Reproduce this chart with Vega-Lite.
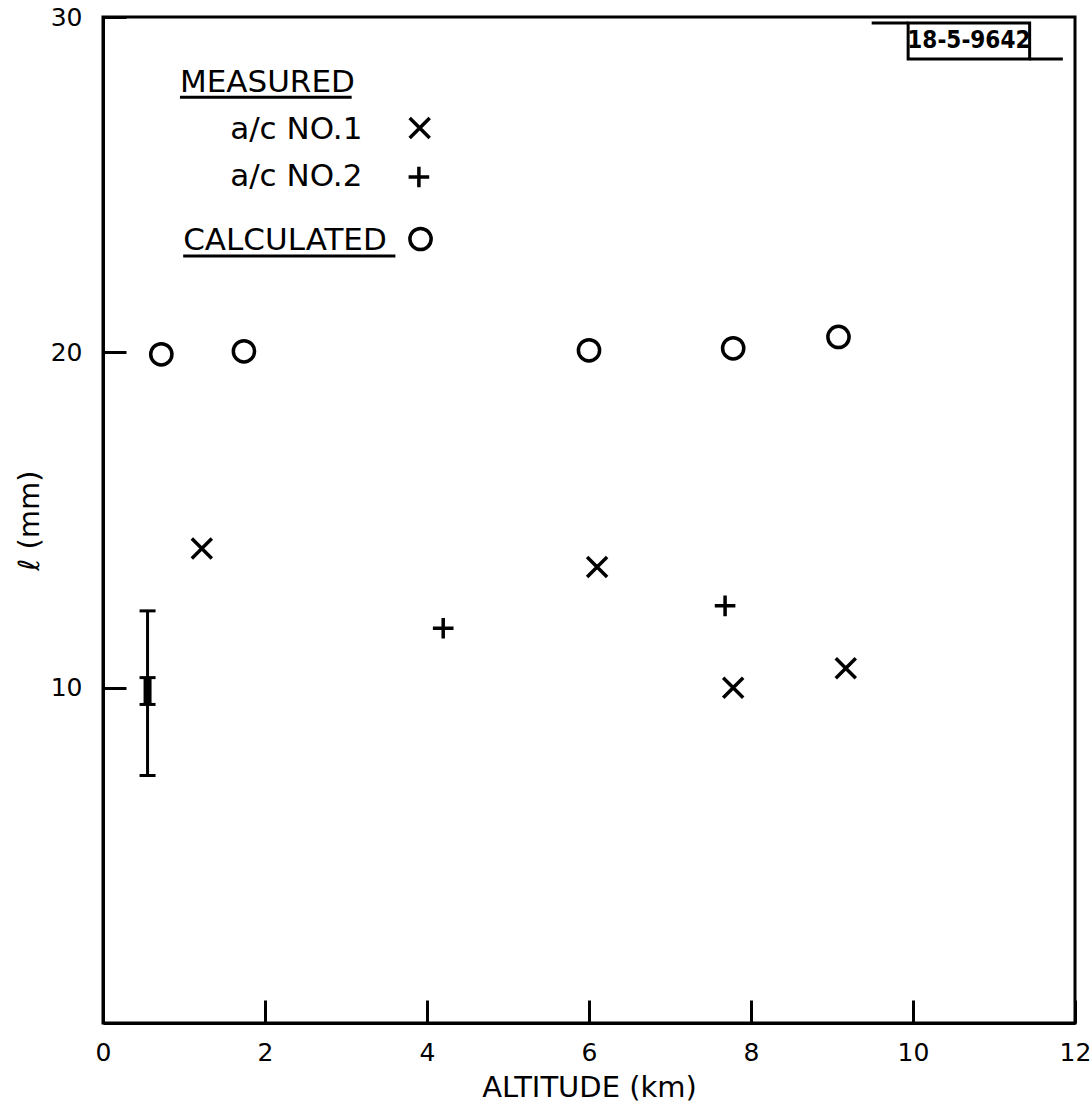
{
  "$schema": "https://vega.github.io/schema/vega-lite/v6.json",
  "autosize": "none",
  "width": 972,
  "height": 1006,
  "padding": {"left": 103, "top": 17, "right": 17, "bottom": 90},
  "background": "white",
  "config": {
    "font": "DejaVu Sans",
    "view": {"stroke": "black", "strokeWidth": 3},
    "axis": {
      "grid": false,
      "domainColor": "black",
      "domainWidth": 3,
      "tickColor": "black",
      "tickWidth": 3,
      "tickSize": -23,
      "labelColor": "black",
      "labelFont": "DejaVu Sans",
      "labelFontSize": 25,
      "labelFontWeight": "normal",
      "titleColor": "black",
      "titleFont": "DejaVu Sans",
      "titleFontWeight": "normal",
      "titleFontSize": 29
    }
  },
  "datasets": {
    "points": [
      {"alt": 0.72, "len": 19.94, "series": "CALCULATED"},
      {"alt": 1.74, "len": 20.03, "series": "CALCULATED"},
      {"alt": 6.0, "len": 20.06, "series": "CALCULATED"},
      {"alt": 7.78, "len": 20.12, "series": "CALCULATED"},
      {"alt": 9.08, "len": 20.46, "series": "CALCULATED"},
      {"alt": 1.22, "len": 14.15, "series": "a/c NO.1"},
      {"alt": 6.1, "len": 13.6, "series": "a/c NO.1"},
      {"alt": 7.78, "len": 10.0, "series": "a/c NO.1"},
      {"alt": 9.17, "len": 10.58, "series": "a/c NO.1"},
      {"alt": 4.2, "len": 11.77, "series": "a/c NO.2"},
      {"alt": 7.68, "len": 12.44, "series": "a/c NO.2"}
    ],
    "err": [
      {"alt": 0.55, "lo": 7.38, "hi": 12.29, "lo2": 9.5, "hi2": 10.3}
    ],
    "caps": [
      {"alt": 0.55, "len": 7.38},
      {"alt": 0.55, "len": 12.29},
      {"alt": 0.55, "len": 9.5},
      {"alt": 0.55, "len": 10.3}
    ],
    "legendText": [
      {"label": "MEASURED", "lx": 0.95, "ly": 27.76},
      {"label": "a/c NO.1", "lx": 1.57, "ly": 26.36},
      {"label": "a/c NO.2", "lx": 1.57, "ly": 24.96},
      {"label": "CALCULATED", "lx": 0.99, "ly": 23.05}
    ],
    "legendSym": [
      {"series": "a/c NO.1", "lx": 3.91, "ly": 26.69},
      {"series": "a/c NO.2", "lx": 3.9, "ly": 25.23},
      {"series": "CALCULATED", "lx": 3.92, "ly": 23.38}
    ],
    "lines": [
      {"x1": 0.95, "x2": 3.07, "y1": 27.61},
      {"x1": 0.99, "x2": 3.61, "y1": 22.87},
      {"x1": 9.49, "x2": 9.94, "y1": 29.82},
      {"x1": 11.44, "x2": 11.85, "y1": 28.75}
    ],
    "box": [
      {"x1": 9.94, "x2": 11.44, "y1": 29.82, "y2": 28.75, "cx": 10.69, "cy": 29.28, "label": "18-5-9642"}
    ]
  },
  "resolve": {"scale": {"size": "independent"}},
  "layer": [
    {
      "data": {"name": "err"},
      "mark": {"type": "rule", "color": "black", "strokeWidth": 3},
      "encoding": {
        "x": {"field": "alt", "type": "quantitative", "scale": {"domain": [0, 12], "nice": false, "zero": false},
          "axis": {"values": [0, 2, 4, 6, 8, 10, 12], "format": "d", "title": "ALTITUDE (km)", "labelPadding": 40, "titlePadding": 8, "labelFlush": false}},
        "y": {"field": "lo", "type": "quantitative", "scale": {"domain": [0, 30], "nice": false, "zero": false},
          "axis": {"values": [10, 20, 30], "format": "d", "title": "ℓ (mm)", "labelPadding": 44, "titlePadding": 6, "labelFlush": false}},
        "y2": {"field": "hi"}
      }
    },
    {
      "data": {"name": "err"},
      "mark": {"type": "rule", "color": "black", "strokeWidth": 8},
      "encoding": {
        "x": {"field": "alt", "type": "quantitative"},
        "y": {"field": "lo2", "type": "quantitative"},
        "y2": {"field": "hi2"}
      }
    },
    {
      "data": {"name": "caps"},
      "mark": {"type": "point", "shape": "M-1,0L1,0", "size": 256, "filled": false, "color": "black", "strokeWidth": 3, "opacity": 1},
      "encoding": {
        "x": {"field": "alt", "type": "quantitative"},
        "y": {"field": "len", "type": "quantitative"}
      }
    },
    {
      "layer": [
        {
          "data": {"name": "points"},
          "mark": {"type": "point", "filled": false, "color": "black", "strokeWidth": 3.5, "opacity": 1},
          "encoding": {
            "x": {"field": "alt", "type": "quantitative"},
            "y": {"field": "len", "type": "quantitative"},
            "shape": {"field": "series", "type": "nominal",
              "scale": {"domain": ["a/c NO.1", "a/c NO.2", "CALCULATED"], "range": ["M-1,-1L1,1M-1,1L1,-1", "M-1,0L1,0M0,-1L0,1", "circle"]},
              "legend": null},
            "size": {"field": "series", "type": "nominal",
              "scale": {"domain": ["a/c NO.1", "a/c NO.2", "CALCULATED"], "range": [400, 450, 520]},
              "legend": null}
          }
        },
        {
          "data": {"name": "legendSym"},
          "mark": {"type": "point", "filled": false, "color": "black", "strokeWidth": 3.5, "opacity": 1},
          "encoding": {
            "x": {"field": "lx", "type": "quantitative"},
            "y": {"field": "ly", "type": "quantitative"},
            "shape": {"field": "series", "type": "nominal", "legend": null},
            "size": {"field": "series", "type": "nominal", "legend": null}
          }
        }
      ]
    },
    {
      "data": {"name": "legendText"},
      "mark": {"type": "text", "align": "left", "baseline": "alphabetic", "fontSize": 31, "font": "DejaVu Sans", "color": "black"},
      "encoding": {
        "x": {"field": "lx", "type": "quantitative"},
        "y": {"field": "ly", "type": "quantitative"},
        "text": {"field": "label"}
      }
    },
    {
      "data": {"name": "lines"},
      "mark": {"type": "rule", "color": "black", "strokeWidth": 3},
      "encoding": {
        "x": {"field": "x1", "type": "quantitative"},
        "x2": {"field": "x2"},
        "y": {"field": "y1", "type": "quantitative"}
      }
    },
    {
      "data": {"name": "box"},
      "mark": {"type": "rect", "fill": "white", "stroke": "black", "strokeWidth": 3},
      "encoding": {
        "x": {"field": "x1", "type": "quantitative"},
        "x2": {"field": "x2"},
        "y": {"field": "y1", "type": "quantitative"},
        "y2": {"field": "y2"}
      }
    },
    {
      "data": {"name": "box"},
      "mark": {"type": "text", "align": "center", "baseline": "middle", "fontSize": 24, "font": "DejaVu Sans Condensed", "fontWeight": "bold", "color": "black"},
      "encoding": {
        "x": {"field": "cx", "type": "quantitative"},
        "y": {"field": "cy", "type": "quantitative"},
        "text": {"field": "label"}
      }
    }
  ]
}
